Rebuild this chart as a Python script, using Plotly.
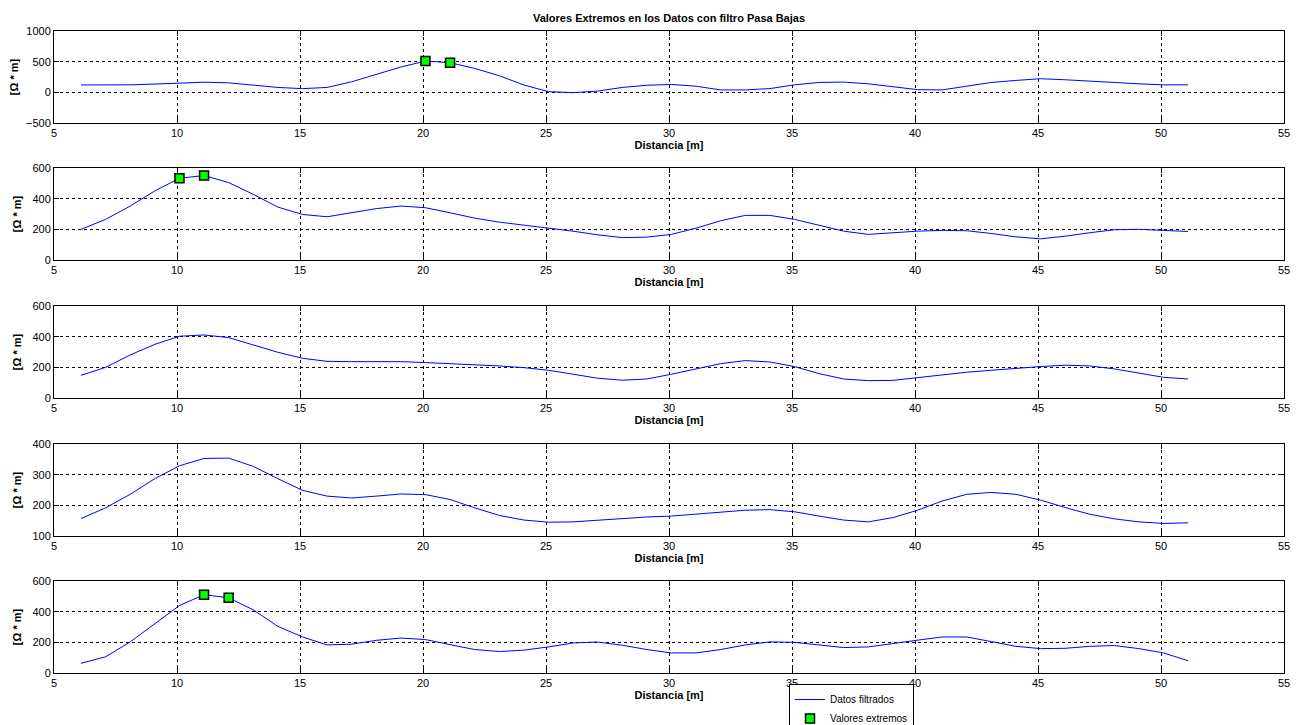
import plotly.graph_objects as go

# ---- data ----
distancia = [6.1 + k for k in range(46)]

panel1 = [120, 120, 122, 135, 150, 165, 155, 120, 80, 60, 80, 172, 295, 413, 510, 483,
          390, 270, 120, 11, -5, 20, 80, 115, 128, 100, 39, 39, 61, 122, 161, 167,
          139, 89, 44, 39, 94, 161, 194, 222, 205, 178, 161, 139, 122, 122]
panel2 = [200, 265, 352, 451, 533, 551, 505, 428, 345, 297, 282, 308, 335, 352, 341, 308,
          273, 247, 228, 208, 188, 164, 146, 149, 167, 208, 256, 291, 291, 265, 226, 188,
          167, 178, 188, 193, 191, 173, 151, 138, 155, 178, 197, 200, 193, 186]
panel3 = [148, 200, 281, 350, 403, 411, 394, 346, 298, 259, 239, 237, 237, 237, 231, 224,
          218, 209, 198, 181, 155, 129, 116, 124, 155, 190, 224, 244, 235, 205, 159, 124,
          113, 115, 133, 153, 168, 181, 194, 205, 214, 209, 190, 164, 135, 124]
panel4 = [157, 192, 236, 287, 329, 353, 354, 327, 287, 249, 230, 224, 230, 237, 235, 219,
          192, 167, 152, 145, 146, 152, 157, 162, 165, 171, 178, 184, 186, 179, 165, 152,
          146, 160, 184, 214, 236, 242, 236, 217, 193, 171, 156, 146, 141, 143]
panel5 = [63, 106, 203, 321, 440, 511, 490, 412, 304, 235, 183, 188, 213, 228, 218, 185,
          153, 140, 149, 170, 196, 202, 181, 153, 131, 131, 153, 183, 203, 200, 183, 166,
          170, 190, 214, 235, 235, 205, 174, 159, 161, 174, 179, 159, 131, 80]

series = [panel1, panel2, panel3, panel4, panel5]
# indices (into distancia) of the extreme values in each panel
extremos_idx = [[14, 15], [4, 5], [], [], [5, 6]]

y_ranges = [[-500, 1000], [0, 600], [0, 600], [100, 400], [0, 600]]
y_ticks = [[-500, 0, 500, 1000], [0, 200, 400, 600], [0, 200, 400, 600],
           [100, 200, 300, 400], [0, 200, 400, 600]]
x_ticks = [5, 10, 15, 20, 25, 30, 35, 40, 45, 50, 55]

titulo = "Valores Extremos en los Datos con filtro Pasa Bajas"
x_titulo = "Distancia [m]"
y_titulo = "[Ω * m]"

# ---- layout geometry (window pixels; page body has an 8px margin) ----
OFF = 8
W, H = 1301 - OFF, 725 - OFF
panel_px = [(31, 123), (168, 260), (306, 398), (444, 536), (581, 673)]
x_px = (54, 1284)


def fx(p):
    return (p - OFF) / W


def fy(p):
    return 1 - (p - OFF) / H


fig = go.Figure()
font_family = "Liberation Sans, Arial, sans-serif"

for i, (vals, idx) in enumerate(zip(series, extremos_idx)):
    n = i + 1
    xa = "x" if n == 1 else f"x{n}"
    ya = "y" if n == 1 else f"y{n}"
    fig.add_trace(go.Scatter(
        x=distancia, y=vals, mode="lines", name="Datos filtrados",
        line=dict(color="#0000ff", width=1), xaxis=xa, yaxis=ya,
        showlegend=(n == 1), legendrank=1))
    if idx:
        fig.add_trace(go.Scatter(
            x=[distancia[j] for j in idx], y=[vals[j] for j in idx],
            mode="markers", name="Valores extremos",
            marker=dict(symbol="square", size=9, color="#00ff00",
                        line=dict(color="black", width=1.5)),
            xaxis=xa, yaxis=ya, showlegend=(n == 1), legendrank=2))

    top, bot = panel_px[i]
    ydom = [fy(bot), fy(top)]
    xdom = [fx(x_px[0]), fx(x_px[1])]
    axis_common = dict(
        showline=True, linecolor="black", linewidth=1, mirror="ticks",
        ticks="inside", ticklen=5, tickcolor="black", automargin=False,
        showgrid=True, gridcolor="black", gridwidth=1, griddash="dot",
        zeroline=False, tickfont=dict(size=11, color="black", family=font_family))
    xkey = "xaxis" if n == 1 else f"xaxis{n}"
    ykey = "yaxis" if n == 1 else f"yaxis{n}"
    fig.update_layout(**{
        xkey: dict(axis_common, domain=xdom, anchor=ya, range=[5, 55],
                   tickvals=x_ticks,
                   title=dict(text=f"<b>{x_titulo}</b>", standoff=2,
                              font=dict(size=11, color="black", family=font_family))),
        ykey: dict(axis_common, domain=ydom, anchor=xa, range=y_ranges[i],
                   tickvals=y_ticks[i],
                   title=dict(text=f"<b>{y_titulo}</b>", standoff=8,
                              font=dict(size=11, color="black", family=font_family))),
    })

fig.update_layout(
    width=W, height=H,
    margin=dict(l=0, r=0, t=0, b=0, autoexpand=False),
    paper_bgcolor="white", plot_bgcolor="white",
    title=dict(text=f"<b>{titulo}</b>", x=fx(669), xanchor="center",
               y=fy(18), yanchor="middle",
               font=dict(size=11, color="black", family=font_family)),
    legend=dict(x=fx(789), y=fy(684), xanchor="left", yanchor="top",
                bgcolor="white", bordercolor="black", borderwidth=1,
                font=dict(size=10, color="black", family=font_family),
                tracegroupgap=0, itemwidth=30),
    showlegend=True,
)

fig.write_html("out.html")
